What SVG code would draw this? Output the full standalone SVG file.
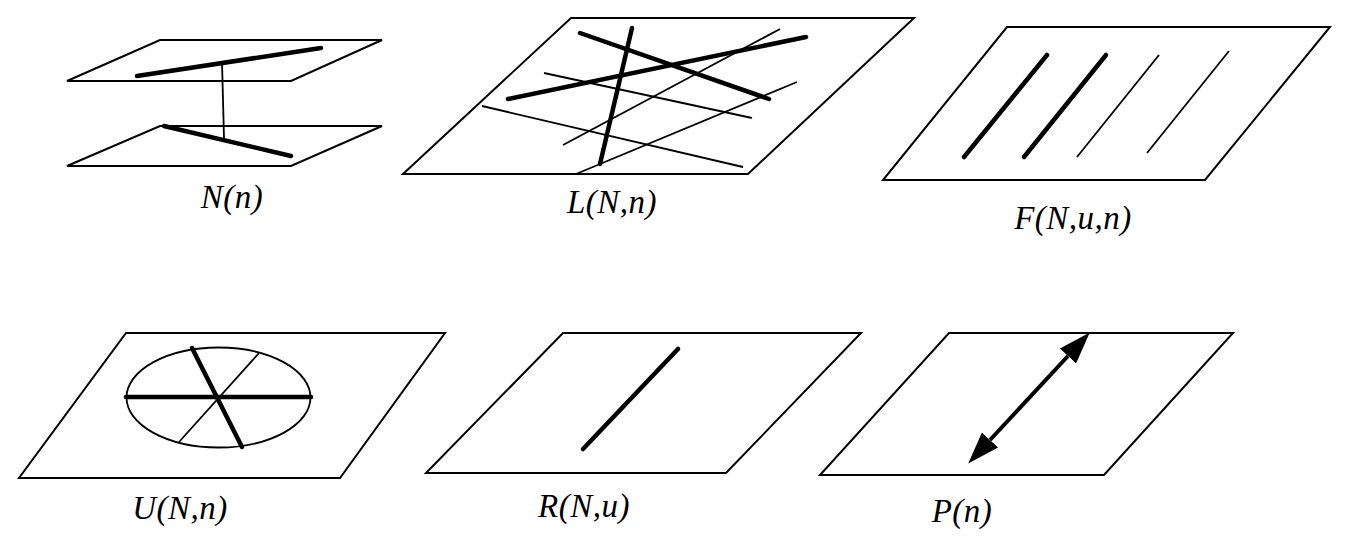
<svg xmlns="http://www.w3.org/2000/svg" width="1352" height="555" viewBox="0 0 1352 555">
<style>
.plane{fill:none;stroke:#000;stroke-width:2;stroke-linejoin:miter}
.thick{stroke:#000;stroke-width:4.5;stroke-linecap:round;fill:none}
.thin{stroke:#000;stroke-width:1.8;fill:none}
text{font-family:'Liberation Serif','Times New Roman',serif;font-style:italic;font-size:33px;fill:#000;text-anchor:middle;letter-spacing:0.5px}
</style>
<defs>
<marker id="ah" viewBox="0 0 32 22" markerWidth="32" markerHeight="22" refX="0" refY="11" orient="auto-start-reverse" markerUnits="userSpaceOnUse">
<path d="M0,0 L32,11 L0,22 z" fill="#000"/>
</marker>
</defs>
<rect width="1352" height="555" fill="#fff"/>
<g id="node-N">
<polygon class="plane" points="160,40 382,40 291,81 67,81"/>
<polygon class="plane" points="160,126 382,126 291,166 67,166"/>
<line class="thick" x1="137" y1="76" x2="321" y2="48"/>
<line class="thin" x1="222" y1="62" x2="224" y2="138"/>
<line class="thick" x1="164" y1="126" x2="291" y2="156"/>
<text x="232" y="208">N(n)</text>
</g>
<g id="node-L">
<polygon class="plane" points="571,18 914,18 748,174 403,174"/>
<line class="thin" x1="544" y1="73" x2="752" y2="118"/>
<line class="thin" x1="482" y1="106" x2="743" y2="167"/>
<line class="thin" x1="563" y1="145" x2="780" y2="29"/>
<line class="thin" x1="576" y1="174" x2="797" y2="82"/>
<line class="thick" x1="580" y1="33" x2="769" y2="99"/>
<line class="thick" x1="632" y1="28" x2="600" y2="164"/>
<line class="thick" x1="508" y1="99" x2="806" y2="37"/>
<text x="612" y="213">L(N,n)</text>
</g>
<g id="node-F">
<polygon class="plane" points="1007,27 1330,27 1205,180 883,180"/>
<line class="thick" x1="964" y1="157" x2="1047" y2="55"/>
<line class="thick" x1="1024" y1="157" x2="1106" y2="55"/>
<line class="thin" x1="1077" y1="157" x2="1159" y2="55"/>
<line class="thin" x1="1147" y1="153" x2="1229" y2="51"/>
<text x="1073" y="229">F(N,u,n)</text>
</g>
<g id="node-U">
<polygon class="plane" points="126,333 445,333 340,478 19,478"/>
<ellipse cx="218.5" cy="397.5" rx="92" ry="50" fill="none" stroke="#000" stroke-width="1.8"/>
<line class="thin" x1="259" y1="353" x2="179" y2="442"/>
<line class="thick" x1="126" y1="397" x2="311" y2="397"/>
<line class="thick" x1="192" y1="348" x2="242" y2="447"/>
<text x="180" y="519">U(N,n)</text>
</g>
<g id="node-R">
<polygon class="plane" points="563,333 861,333 726,473 426,473"/>
<line class="thick" x1="583" y1="449" x2="678" y2="349"/>
<text x="584" y="517">R(N,u)</text>
</g>
<g id="node-P">
<polygon class="plane" points="949,333 1233,333 1104,475 820,475"/>
<text x="962" y="522">P(n)</text>
</g>
<g id="connectors">
<line x1="990" y1="440" x2="1068" y2="356" stroke="#000" stroke-width="4" marker-start="url(#ah)" marker-end="url(#ah)"/>
</g>
</svg>
